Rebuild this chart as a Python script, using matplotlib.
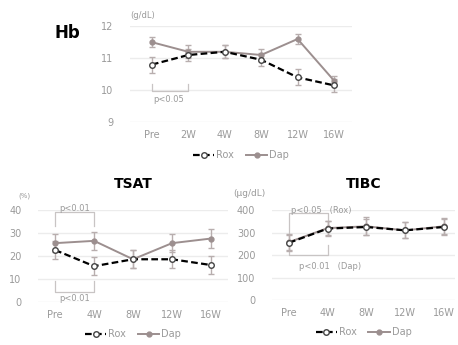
import matplotlib
matplotlib.use('Agg')
import matplotlib.pyplot as plt

# --- data ---
hb_weeks = ['Pre', '2W', '4W', '8W', '12W', '16W']
hb_rox = [10.8, 11.1, 11.2, 10.95, 10.4, 10.15]
hb_rox_err = [0.25, 0.2, 0.2, 0.2, 0.25, 0.2]
hb_dap = [11.5, 11.2, 11.2, 11.1, 11.6, 10.3]
hb_dap_err = [0.15, 0.2, 0.2, 0.2, 0.15, 0.15]

iron_weeks = ['Pre', '4W', '8W', '12W', '16W']
tsat_rox = [22.5, 15.5, 18.5, 18.5, 16.0]
tsat_rox_err = [4, 4, 4, 4, 4]
tsat_dap = [25.5, 26.5, 18.5, 25.5, 27.5]
tsat_dap_err = [4, 4, 4, 4, 4]

tibc_rox = [255, 318, 325, 310, 325]
tibc_rox_err = [35, 35, 35, 35, 35]
tibc_dap = [258, 320, 328, 310, 328]
tibc_dap_err = [35, 30, 40, 35, 35]

dap_col = '#9c8f8f'
txt_col = '#9a9a9a'
grid_col = '#ececec'
br_col = '#c8c4c4'
err_col = '#b8aeae'


def draw_panel(ax, labels, rox, rox_err, dap, dap_err, ylim, yticks, xlim):
    x = range(len(labels))
    ax.errorbar(x, dap, yerr=dap_err, fmt='none', ecolor=err_col, elinewidth=1,
                capsize=2, zorder=2)
    ax.errorbar(x, rox, yerr=rox_err, fmt='none', ecolor=err_col, elinewidth=1,
                capsize=2, zorder=2)
    ax.plot(x, rox, color='black', lw=1.6, ls=(0, (3, 1.5)), marker='o', ms=4,
            mfc='white', mec='#444444', label='Rox', zorder=4)
    ax.plot(x, dap, color=dap_col, lw=1.4, marker='o', ms=3.5, mfc=dap_col,
            mec=dap_col, label='Dap', zorder=3)
    ax.set_ylim(*ylim)
    ax.set_xlim(*xlim)
    ax.set_yticks(yticks)
    ax.set_xticks(list(x))
    ax.set_xticklabels(labels)
    ax.yaxis.grid(True, color=grid_col, lw=1)
    ax.set_axisbelow(True)
    for s in ax.spines.values():
        s.set_visible(False)
    ax.tick_params(length=0, colors=txt_col, labelsize=7)
    ax.tick_params(axis='x', pad=6)
    ax.tick_params(axis='y', pad=12)
    ax.legend(loc='upper center', bbox_to_anchor=(0.5, -0.2), ncol=2, frameon=False,
              fontsize=7, handlelength=2.2, columnspacing=1.2, handletextpad=0.2,
              labelcolor=txt_col)


def bracket(ax, x0, x1, y_end, y_bar):
    ax.plot([x0, x0, x1, x1], [y_end, y_bar, y_bar, y_end], color=br_col, lw=0.9, zorder=1)


fig = plt.figure(figsize=(4.58, 3.45), dpi=100)

# Hb
ax1 = fig.add_axes([0.284, 0.646, 0.485, 0.278])
draw_panel(ax1, hb_weeks, hb_rox, hb_rox_err, hb_dap, hb_dap_err,
           (9, 12), [9, 10, 11, 12], (-0.6, 5.5))
bracket(ax1, 0, 1, 10.2, 9.97)
ax1.text(0.05, 9.72, 'p<0.05', fontsize=6, color=txt_col, va='center')
ax1.text(-0.6, 12.35, '(g/dL)', fontsize=6, color=txt_col, va='center')
fig.text(0.12, 0.905, 'Hb', fontsize=12, fontweight='bold', va='center', ha='left')

# TSAT
ax2 = fig.add_axes([0.083, 0.125, 0.415, 0.267])
draw_panel(ax2, iron_weeks, tsat_rox, tsat_rox_err, tsat_dap, tsat_dap_err,
           (0, 40), [0, 10, 20, 30, 40], (-0.44, 4.44))
bracket(ax2, 0, 1, 33, 39)
bracket(ax2, 0, 1, 9, 4.5)
ax2.text(0.1, 40.5, 'p<0.01', fontsize=6, color=txt_col, va='center')
ax2.text(0.1, 1.5, 'p<0.01', fontsize=6, color=txt_col, va='center')
ax2.text(-0.95, 46, '(%)', fontsize=5, color=txt_col, va='center')
ax2.set_title('TSAT', fontsize=10, fontweight='bold', pad=16)

# TIBC
ax3 = fig.add_axes([0.594, 0.13, 0.40, 0.261])
draw_panel(ax3, iron_weeks, tibc_rox, tibc_rox_err, tibc_dap, tibc_dap_err,
           (0, 400), [0, 100, 200, 300, 400], (-0.44, 4.3))
bracket(ax3, 0, 1, 290, 385)
bracket(ax3, 0, 1, 245, 200)
ax3.text(0.05, 398, 'p<0.05   (Rox)', fontsize=6, color=txt_col, va='center')
ax3.text(0.25, 148, 'p<0.01   (Dap)', fontsize=6, color=txt_col, va='center')
ax3.text(-1.45, 475, '(μg/dL)', fontsize=6.5, color=txt_col, va='center')
ax3.set_title('TIBC', fontsize=10, fontweight='bold', pad=16)

fig.savefig('out.png', dpi=100)
